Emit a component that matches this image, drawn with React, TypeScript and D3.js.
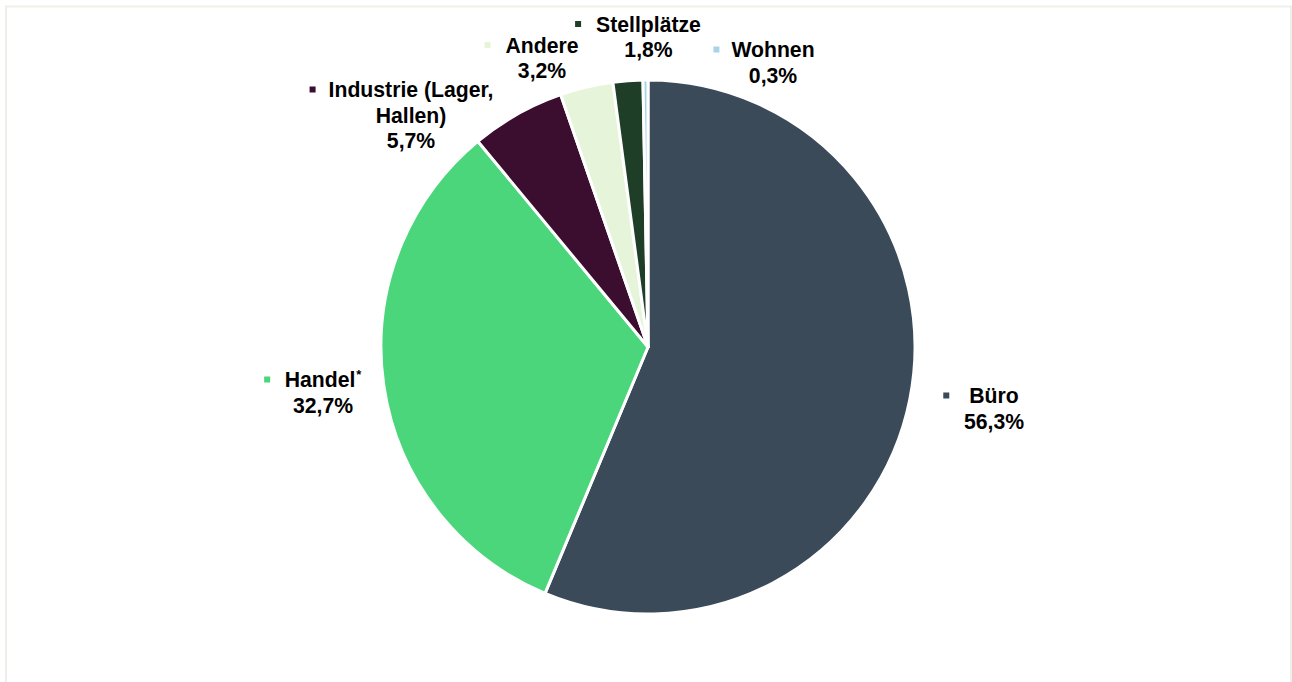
import React, { useEffect, useRef } from "react";
import * as d3 from "d3";

// ---- data ----
const categories = ["Büro", "Handel", "Industrie (Lager, Hallen)", "Andere", "Stellplätze", "Wohnen"];
const shares = [56.3, 32.7, 5.7, 3.2, 1.8, 0.3];
const valueLabels = ["56,3%", "32,7%", "5,7%", "3,2%", "1,8%", "0,3%"];
const nameLines = [["Büro"], ["Handel"], ["Industrie (Lager,", "Hallen)"], ["Andere"], ["Stellplätze"], ["Wohnen"]];
const footnoteMark = ["", "*", "", "", "", ""];
const colors = ["#3a4a59", "#4cd67c", "#3b0d2e", "#e6f5d9", "#1f3e28", "#a9d4e8"];

// ---- layout (label anchor = first-line baseline centre, relative to pie centre) ----
const labelOffsets: [number, number, number][] = [
  [346, 56, 20],
  [-325, 40, 15],
  [-237, -250, 13],
  [-106, -294.5, 15],
  [0.5, -315.5, 15],
  [125, -290, 12],
];

const W = 1292;
const H = 682;
const CX = 648;
const CY = 347;
const R = 267;
const LINE = 25.5;
const FS = 21.2;
const FONT = "'Liberation Sans', Arial, Helvetica, sans-serif";

export default function App() {
  const ref = useRef<SVGSVGElement | null>(null);

  useEffect(() => {
    const svg = d3.select(ref.current);
    svg.selectAll("*").remove();

    svg
      .append("rect")
      .attr("x", 6)
      .attr("y", 6.5)
      .attr("width", 1285)
      .attr("height", 720)
      .attr("fill", "#ffffff")
      .attr("stroke", "#efefe9")
      .attr("stroke-width", 2);

    const data = categories.map((c, i) => ({ name: c, value: shares[i], i }));
    const pie = d3
      .pie<{ name: string; value: number; i: number }>()
      .value((d) => d.value)
      .sort(null);
    const arc = d3
      .arc<d3.PieArcDatum<{ name: string; value: number; i: number }>>()
      .innerRadius(0)
      .outerRadius(R);

    const g = svg.append("g").attr("transform", `translate(${CX},${CY})`);
    g.selectAll("path")
      .data(pie(data))
      .join("path")
      .attr("d", arc)
      .attr("fill", (d) => colors[d.data.i])
      .attr("stroke", "#ffffff")
      .attr("stroke-width", 3)
      .attr("stroke-linejoin", "round");

    const lg = svg.append("g").attr("transform", `translate(${CX},${CY})`);
    data.forEach((d, i) => {
      const [dx, dy, gap] = labelOffsets[i];
      const lines = [...nameLines[i], valueLabels[i]];
      let firstWidth = 0;
      lines.forEach((ln, k) => {
        const t = lg
          .append("text")
          .attr("x", dx)
          .attr("y", dy + k * LINE)
          .attr("text-anchor", "middle")
          .attr("font-family", FONT)
          .attr("font-weight", "bold")
          .attr("font-size", FS)
          .attr("fill", "#000000");
        t.append("tspan").text(ln);
        if (k === 0 && footnoteMark[i]) {
          t.append("tspan")
            .attr("font-size", 13)
            .attr("dy", -8)
            .attr("dx", 1)
            .text(footnoteMark[i]);
        }
        if (k === 0) {
          firstWidth = (t.node() as SVGTextElement).getComputedTextLength();
        }
      });
      const mx = dx - firstWidth / 2 - gap;
      lg.append("rect")
        .attr("x", mx - 6)
        .attr("y", dy - 10.5)
        .attr("width", 6)
        .attr("height", 6)
        .attr("fill", colors[i]);
    });
  }, []);

  return (
    <svg
      ref={ref}
      width={W}
      height={H}
      style={{ position: "absolute", left: 0, top: 0, background: "#ffffff" }}
    />
  );
}
